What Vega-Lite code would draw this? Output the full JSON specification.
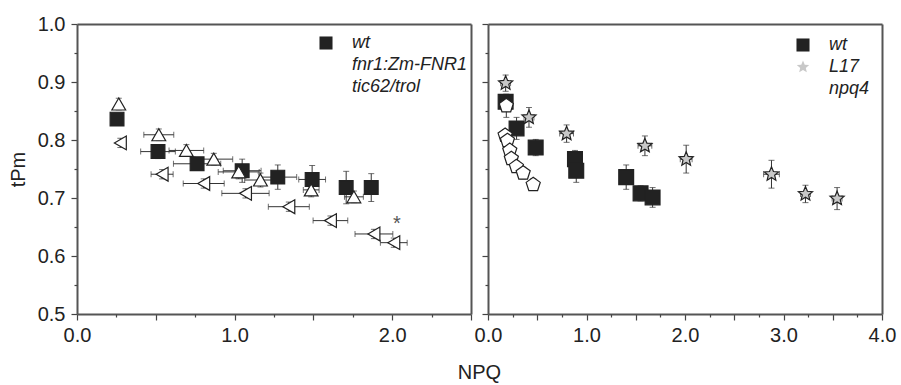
{
  "$schema": "https://vega.github.io/schema/vega-lite/v6.json",
  "width": 805,
  "height": 290,
  "padding": {"left": 8, "top": 14, "right": 4, "bottom": 2},
  "background": "white",
  "data": {"values": [
    {"panel": "L", "series": "wt", "x": 0.254, "y": 0.836, "ex": 0.03, "ey": 0.01},
    {"panel": "L", "series": "wt", "x": 0.514, "y": 0.780, "ex": 0.11, "ey": 0.012},
    {"panel": "L", "series": "wt", "x": 0.762, "y": 0.759, "ex": 0.15, "ey": 0.01},
    {"panel": "L", "series": "wt", "x": 1.048, "y": 0.747, "ex": 0.12, "ey": 0.02},
    {"panel": "L", "series": "wt", "x": 1.274, "y": 0.736, "ex": 0.12, "ey": 0.021},
    {"panel": "L", "series": "wt", "x": 1.492, "y": 0.732, "ex": 0.085, "ey": 0.024},
    {"panel": "L", "series": "wt", "x": 1.708, "y": 0.718, "ex": 0.02, "ey": 0.028},
    {"panel": "L", "series": "wt", "x": 1.867, "y": 0.718, "ex": 0.03, "ey": 0.024},
    {"panel": "L", "series": "fnr1:Zm-FNR1", "x": 0.265, "y": 0.862, "ex": 0.02, "ey": 0.01},
    {"panel": "L", "series": "fnr1:Zm-FNR1", "x": 0.519, "y": 0.809, "ex": 0.095, "ey": 0.01},
    {"panel": "L", "series": "fnr1:Zm-FNR1", "x": 0.694, "y": 0.782, "ex": 0.11, "ey": 0.01},
    {"panel": "L", "series": "fnr1:Zm-FNR1", "x": 0.868, "y": 0.767, "ex": 0.12, "ey": 0.01},
    {"panel": "L", "series": "fnr1:Zm-FNR1", "x": 1.026, "y": 0.745, "ex": 0.13, "ey": 0.012},
    {"panel": "L", "series": "fnr1:Zm-FNR1", "x": 1.164, "y": 0.731, "ex": 0.1, "ey": 0.012},
    {"panel": "L", "series": "fnr1:Zm-FNR1", "x": 1.486, "y": 0.714, "ex": 0.05, "ey": 0.012},
    {"panel": "L", "series": "fnr1:Zm-FNR1", "x": 1.757, "y": 0.702, "ex": 0.06, "ey": 0.01},
    {"panel": "L", "series": "tic62/trol", "x": 0.275, "y": 0.795, "ex": 0.02, "ey": 0.008},
    {"panel": "L", "series": "tic62/trol", "x": 0.54, "y": 0.741, "ex": 0.07, "ey": 0.008},
    {"panel": "L", "series": "tic62/trol", "x": 0.804, "y": 0.725, "ex": 0.13, "ey": 0.008},
    {"panel": "L", "series": "tic62/trol", "x": 1.069, "y": 0.708, "ex": 0.15, "ey": 0.008},
    {"panel": "L", "series": "tic62/trol", "x": 1.344, "y": 0.685, "ex": 0.13, "ey": 0.008},
    {"panel": "L", "series": "tic62/trol", "x": 1.608, "y": 0.661, "ex": 0.11, "ey": 0.008},
    {"panel": "L", "series": "tic62/trol", "x": 1.884, "y": 0.638, "ex": 0.12, "ey": 0.008},
    {"panel": "L", "series": "tic62/trol", "x": 2.01, "y": 0.623, "ex": 0.085, "ey": 0.008},
    {"panel": "R", "series": "wt", "x": 0.179, "y": 0.866, "ex": 0.03, "ey": 0.012},
    {"panel": "R", "series": "wt", "x": 0.29, "y": 0.820, "ex": 0.03, "ey": 0.019},
    {"panel": "R", "series": "wt", "x": 0.484, "y": 0.787, "ex": 0.02, "ey": 0.014},
    {"panel": "R", "series": "wt", "x": 0.883, "y": 0.767, "ex": 0.04, "ey": 0.015},
    {"panel": "R", "series": "wt", "x": 0.896, "y": 0.747, "ex": 0.03, "ey": 0.02},
    {"panel": "R", "series": "wt", "x": 1.403, "y": 0.736, "ex": 0.03, "ey": 0.021},
    {"panel": "R", "series": "wt", "x": 1.549, "y": 0.708, "ex": 0.04, "ey": 0.013},
    {"panel": "R", "series": "wt", "x": 1.671, "y": 0.701, "ex": 0.03, "ey": 0.017},
    {"panel": "R", "series": "L17", "x": 0.179, "y": 0.898, "ex": 0.05, "ey": 0.014},
    {"panel": "R", "series": "L17", "x": 0.416, "y": 0.839, "ex": 0.05, "ey": 0.017},
    {"panel": "R", "series": "L17", "x": 0.798, "y": 0.811, "ex": 0.07, "ey": 0.015},
    {"panel": "R", "series": "L17", "x": 1.593, "y": 0.790, "ex": 0.07, "ey": 0.017},
    {"panel": "R", "series": "L17", "x": 2.012, "y": 0.767, "ex": 0.06, "ey": 0.024},
    {"panel": "R", "series": "L17", "x": 2.878, "y": 0.741, "ex": 0.08, "ey": 0.024},
    {"panel": "R", "series": "L17", "x": 3.223, "y": 0.707, "ex": 0.05, "ey": 0.015},
    {"panel": "R", "series": "L17", "x": 3.544, "y": 0.699, "ex": 0.05, "ey": 0.019},
    {"panel": "R", "series": "npq4", "x": 0.186, "y": 0.859, "ex": 0.03, "ey": 0.02},
    {"panel": "R", "series": "npq4", "x": 0.174, "y": 0.808, "ex": 0.02, "ey": 0.01},
    {"panel": "R", "series": "npq4", "x": 0.197, "y": 0.799, "ex": 0.02, "ey": 0.01},
    {"panel": "R", "series": "npq4", "x": 0.221, "y": 0.782, "ex": 0.02, "ey": 0.01},
    {"panel": "R", "series": "npq4", "x": 0.237, "y": 0.768, "ex": 0.02, "ey": 0.01},
    {"panel": "R", "series": "npq4", "x": 0.288, "y": 0.754, "ex": 0.02, "ey": 0.01},
    {"panel": "R", "series": "npq4", "x": 0.357, "y": 0.743, "ex": 0.02, "ey": 0.01},
    {"panel": "R", "series": "npq4", "x": 0.459, "y": 0.723, "ex": 0.02, "ey": 0.01}
  ]},
  "transform": [
    {"calculate": "datum.y - datum.ey", "as": "ylo"},
    {"calculate": "datum.y + datum.ey", "as": "yhi"},
    {"calculate": "datum.x - datum.ex", "as": "xlo"},
    {"calculate": "datum.x + datum.ex", "as": "xhi"}
  ],
  "layer": [
    {
      "transform": [{"filter": "datum.panel == 'L'"}],
      "mark": {"type": "rule", "color": "#333", "strokeWidth": 1},
      "encoding": {
        "x": {"field": "x", "type": "quantitative", "scale": {"domain": [0, 2.5], "range": [0, 394], "nice": false, "zero": false},
          "axis": {"orient": "bottom", "values": [0, 0.5, 1, 1.5, 2, 2.5], "tickSize": 6, "labelPadding": 5,
            "labelExpr": "datum.value == round(datum.value) ? format(datum.value, '.1f') : ''",
            "title": "NPQ", "titleX": 402, "titlePadding": 17}},
        "y": {"field": "ylo", "type": "quantitative", "scale": {"domain": [0.5, 1.0], "nice": false, "zero": false},
          "axis": {"orient": "left", "values": [0.5, 0.6, 0.7, 0.8, 0.9, 1.0], "format": ".1f", "tickSize": 6, "labelPadding": 6,
            "title": "tPm", "titlePadding": 9}},
        "y2": {"field": "yhi"}
      }
    },
    {
      "transform": [{"filter": "datum.panel == 'L'"}],
      "mark": {"type": "tick", "orient": "horizontal", "color": "#333", "size": 6, "thickness": 1},
      "encoding": {
        "x": {"field": "x", "type": "quantitative", "scale": {"domain": [0, 2.5], "range": [0, 394], "nice": false, "zero": false},
          "axis": {"orient": "bottom", "values": [0.25, 0.75, 1.25, 1.75, 2.25], "tickSize": 3, "labels": false, "domain": false, "title": null}},
        "y": {"field": "ylo", "type": "quantitative", "scale": {"domain": [0.5, 1.0], "nice": false, "zero": false},
          "axis": {"orient": "left", "values": [0.55, 0.65, 0.75, 0.85, 0.95], "tickSize": 3, "labels": false, "domain": false, "title": null}}
      }
    },
    {
      "transform": [{"filter": "datum.panel == 'L'"}],
      "mark": {"type": "tick", "orient": "horizontal", "color": "#333", "size": 6, "thickness": 1},
      "encoding": {
        "x": {"field": "x", "type": "quantitative", "scale": {"domain": [0, 2.5], "range": [0, 394], "nice": false, "zero": false},
          "axis": {"orient": "top", "ticks": false, "labels": false, "domain": true, "title": null}},
        "y": {"field": "yhi", "type": "quantitative", "scale": {"domain": [0.5, 1.0], "nice": false, "zero": false},
          "axis": {"orient": "right", "offset": -411, "ticks": false, "labels": false, "domain": true, "title": null}}
      }
    },
    {
      "transform": [{"filter": "datum.panel == 'L' && datum.ex > 0.025"}],
      "mark": {"type": "rule", "color": "#333", "strokeWidth": 1},
      "encoding": {
        "x": {"field": "xlo", "type": "quantitative", "scale": {"domain": [0, 2.5], "range": [0, 394], "nice": false, "zero": false}, "axis": null},
        "x2": {"field": "xhi"},
        "y": {"field": "y", "type": "quantitative", "scale": {"domain": [0.5, 1.0], "nice": false, "zero": false}, "axis": null}
      }
    },
    {
      "transform": [{"filter": "datum.panel == 'L' && datum.ex > 0.025"}],
      "mark": {"type": "tick", "orient": "vertical", "color": "#333", "size": 6, "thickness": 1},
      "encoding": {
        "x": {"field": "xlo", "type": "quantitative", "scale": {"domain": [0, 2.5], "range": [0, 394], "nice": false, "zero": false}, "axis": null},
        "y": {"field": "y", "type": "quantitative", "scale": {"domain": [0.5, 1.0], "nice": false, "zero": false}, "axis": null}
      }
    },
    {
      "transform": [{"filter": "datum.panel == 'L' && datum.ex > 0.025"}],
      "mark": {"type": "tick", "orient": "vertical", "color": "#333", "size": 6, "thickness": 1},
      "encoding": {
        "x": {"field": "xhi", "type": "quantitative", "scale": {"domain": [0, 2.5], "range": [0, 394], "nice": false, "zero": false}, "axis": null},
        "y": {"field": "y", "type": "quantitative", "scale": {"domain": [0.5, 1.0], "nice": false, "zero": false}, "axis": null}
      }
    },
    {
      "transform": [{"filter": "datum.panel == 'L'"}],
      "mark": {"type": "point", "stroke": "#222", "strokeWidth": 1.2, "opacity": 1, "size": 190},
      "encoding": {
        "x": {"field": "x", "type": "quantitative", "scale": {"domain": [0, 2.5], "range": [0, 394], "nice": false, "zero": false}, "axis": null},
        "y": {"field": "y", "type": "quantitative", "scale": {"domain": [0.5, 1.0], "nice": false, "zero": false}, "axis": null},
        "shape": {"field": "series", "type": "nominal",
          "scale": {"domain": ["wt", "fnr1:Zm-FNR1", "tic62/trol"], "range": ["square", "triangle-up", "triangle-left"]},
          "legend": {"title": null, "orient": "none", "legendX": 240, "legendY": 10, "labelFontStyle": "italic"}},
        "fill": {"field": "series", "type": "nominal",
          "scale": {"domain": ["wt", "fnr1:Zm-FNR1", "tic62/trol"], "range": ["#222222", "#ffffff", "#ffffff"]},
          "legend": {"title": null, "orient": "none", "legendX": 240, "legendY": 10, "labelFontStyle": "italic"}}
      }
    },
    {
      "data": {"values": [{"x": 2.03, "y": 0.655, "label": "*"}]},
      "mark": {"type": "text", "fontSize": 20, "color": "#555", "baseline": "middle"},
      "encoding": {
        "x": {"field": "x", "type": "quantitative", "scale": {"domain": [0, 2.5], "range": [0, 394], "nice": false, "zero": false}, "axis": null},
        "y": {"field": "y", "type": "quantitative", "scale": {"domain": [0.5, 1.0], "nice": false, "zero": false}, "axis": null},
        "text": {"field": "label"}
      }
    },
    {
      "transform": [{"filter": "datum.panel == 'R'"}],
      "mark": {"type": "rule", "color": "#333", "strokeWidth": 1},
      "encoding": {
        "x": {"field": "x", "type": "quantitative", "scale": {"domain": [0, 4], "range": [411, 805], "nice": false, "zero": false},
          "axis": {"orient": "bottom", "values": [0, 0.5, 1, 1.5, 2, 2.5, 3, 3.5, 4], "tickSize": 6, "labelPadding": 5,
            "labelExpr": "datum.value == round(datum.value) ? format(datum.value, '.1f') : ''", "title": null}},
        "y": {"field": "ylo", "type": "quantitative", "scale": {"domain": [0.5, 1.0], "nice": false, "zero": false},
          "axis": {"orient": "left", "offset": -411, "values": [0.5, 0.6, 0.7, 0.8, 0.9, 1.0], "tickSize": 6, "labels": false, "title": null}},
        "y2": {"field": "yhi"}
      }
    },
    {
      "transform": [{"filter": "datum.panel == 'R'"}],
      "mark": {"type": "tick", "orient": "horizontal", "color": "#333", "size": 6, "thickness": 1},
      "encoding": {
        "x": {"field": "x", "type": "quantitative", "scale": {"domain": [0, 4], "range": [411, 805], "nice": false, "zero": false},
          "axis": {"orient": "bottom", "values": [0.25, 0.75, 1.25, 1.75, 2.25, 2.75, 3.25, 3.75], "tickSize": 3, "labels": false, "domain": false, "title": null}},
        "y": {"field": "ylo", "type": "quantitative", "scale": {"domain": [0.5, 1.0], "nice": false, "zero": false},
          "axis": {"orient": "left", "offset": -411, "values": [0.55, 0.65, 0.75, 0.85, 0.95], "tickSize": 3, "labels": false, "domain": false, "title": null}}
      }
    },
    {
      "transform": [{"filter": "datum.panel == 'R'"}],
      "mark": {"type": "tick", "orient": "horizontal", "color": "#333", "size": 6, "thickness": 1},
      "encoding": {
        "x": {"field": "x", "type": "quantitative", "scale": {"domain": [0, 4], "range": [411, 805], "nice": false, "zero": false},
          "axis": {"orient": "top", "ticks": false, "labels": false, "domain": true, "title": null}},
        "y": {"field": "yhi", "type": "quantitative", "scale": {"domain": [0.5, 1.0], "nice": false, "zero": false},
          "axis": {"orient": "right", "ticks": false, "labels": false, "domain": true, "title": null}}
      }
    },
    {
      "transform": [{"filter": "datum.panel == 'R' && datum.ex > 0.025"}],
      "mark": {"type": "rule", "color": "#333", "strokeWidth": 1},
      "encoding": {
        "x": {"field": "xlo", "type": "quantitative", "scale": {"domain": [0, 4], "range": [411, 805], "nice": false, "zero": false}, "axis": null},
        "x2": {"field": "xhi"},
        "y": {"field": "y", "type": "quantitative", "scale": {"domain": [0.5, 1.0], "nice": false, "zero": false}, "axis": null}
      }
    },
    {
      "transform": [{"filter": "datum.panel == 'R' && datum.ex > 0.025"}],
      "mark": {"type": "tick", "orient": "vertical", "color": "#333", "size": 6, "thickness": 1},
      "encoding": {
        "x": {"field": "xlo", "type": "quantitative", "scale": {"domain": [0, 4], "range": [411, 805], "nice": false, "zero": false}, "axis": null},
        "y": {"field": "y", "type": "quantitative", "scale": {"domain": [0.5, 1.0], "nice": false, "zero": false}, "axis": null}
      }
    },
    {
      "transform": [{"filter": "datum.panel == 'R' && datum.ex > 0.025"}],
      "mark": {"type": "tick", "orient": "vertical", "color": "#333", "size": 6, "thickness": 1},
      "encoding": {
        "x": {"field": "xhi", "type": "quantitative", "scale": {"domain": [0, 4], "range": [411, 805], "nice": false, "zero": false}, "axis": null},
        "y": {"field": "y", "type": "quantitative", "scale": {"domain": [0.5, 1.0], "nice": false, "zero": false}, "axis": null}
      }
    },
    {
      "transform": [{"filter": "datum.panel == 'R'"}],
      "mark": {"type": "point", "stroke": "#222", "strokeWidth": 1.2, "opacity": 1, "size": 220},
      "encoding": {
        "x": {"field": "x", "type": "quantitative", "scale": {"domain": [0, 4], "range": [411, 805], "nice": false, "zero": false}, "axis": null},
        "y": {"field": "y", "type": "quantitative", "scale": {"domain": [0.5, 1.0], "nice": false, "zero": false}, "axis": null},
        "shape": {"field": "series", "type": "nominal",
          "scale": {"domain": ["wt", "L17", "npq4"], "range": ["square", "M0,-1L0.265,-0.364L0.951,-0.309L0.428,0.139L0.588,0.809L0,0.45L-0.588,0.809L-0.428,0.139L-0.951,-0.309L-0.265,-0.364Z", "M0,-1L0.951,-0.309L0.588,0.809L-0.588,0.809L-0.951,-0.309Z"]},
          "legend": {"title": null, "orient": "none", "legendX": 717, "legendY": 12, "labelFontStyle": "italic"}},
        "fill": {"field": "series", "type": "nominal",
          "scale": {"domain": ["wt", "L17", "npq4"], "range": ["#222222", "#c8c8c8", "#ffffff"]},
          "legend": {"title": null, "orient": "none", "legendX": 717, "legendY": 12, "labelFontStyle": "italic"}}
      }
    }
  ],
  "resolve": {"scale": {"x": "independent", "y": "independent", "shape": "independent", "fill": "independent"}},
  "config": {
    "font": "Liberation Sans",
    "view": {"stroke": null},
    "axis": {
      "grid": false,
      "domainColor": "#555",
      "domainWidth": 2,
      "tickColor": "#444",
      "tickWidth": 1.2,
      "labelFont": "Liberation Sans",
      "labelFontSize": 20,
      "labelColor": "#222",
      "labelFlush": false,
      "labelOverlap": false,
      "titleFont": "Liberation Sans",
      "titleFontSize": 20,
      "titleFontWeight": "normal",
      "titleColor": "#222"
    },
    "legend": {
      "labelFont": "Liberation Sans",
      "labelFontSize": 18,
      "labelColor": "#222",
      "symbolSize": 170,
      "symbolStrokeColor": "#222",
      "symbolStrokeWidth": 1.2,
      "rowPadding": 4,
      "labelOffset": 17
    }
  }
}
